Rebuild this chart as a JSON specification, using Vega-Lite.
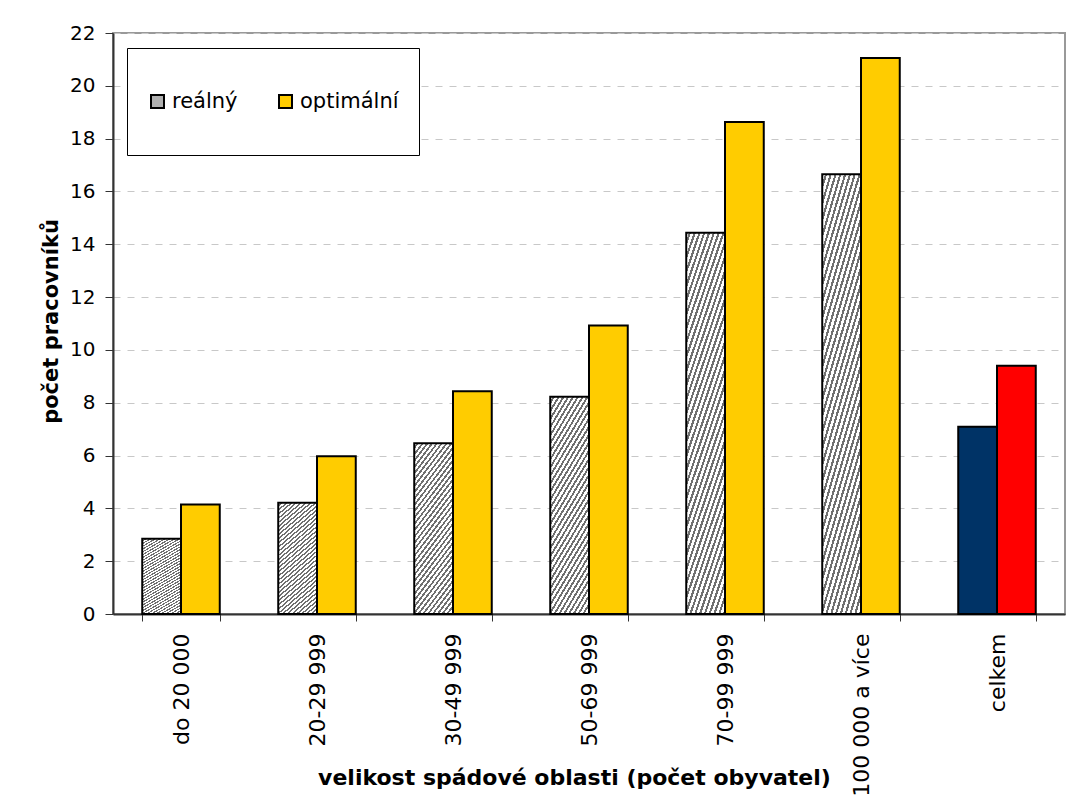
{
  "$schema": "https://vega.github.io/schema/vega-lite/v6.json",
  "width": 952,
  "height": 581,
  "autosize": {"type": "none"},
  "padding": {"left": 113, "top": 33, "right": 6, "bottom": 186},
  "background": "white",
  "data": {
    "values": [
      {"kategorie": "do 20 000", "serie": "reálný", "barva": "reálný", "pocet": 2.85},
      {"kategorie": "do 20 000", "serie": "optimální", "barva": "optimální", "pocet": 4.15},
      {"kategorie": "20-29 999", "serie": "reálný", "barva": "reálný", "pocet": 4.21},
      {"kategorie": "20-29 999", "serie": "optimální", "barva": "optimální", "pocet": 5.97},
      {"kategorie": "30-49 999", "serie": "reálný", "barva": "reálný", "pocet": 6.47},
      {"kategorie": "30-49 999", "serie": "optimální", "barva": "optimální", "pocet": 8.43},
      {"kategorie": "50-69 999", "serie": "reálný", "barva": "reálný", "pocet": 8.23},
      {"kategorie": "50-69 999", "serie": "optimální", "barva": "optimální", "pocet": 10.92},
      {"kategorie": "70-99 999", "serie": "reálný", "barva": "reálný", "pocet": 14.44},
      {"kategorie": "70-99 999", "serie": "optimální", "barva": "optimální", "pocet": 18.63},
      {"kategorie": "100 000 a více", "serie": "reálný", "barva": "reálný", "pocet": 16.65},
      {"kategorie": "100 000 a více", "serie": "optimální", "barva": "optimální", "pocet": 21.05},
      {"kategorie": "celkem", "serie": "reálný", "barva": "celkem reálný", "pocet": 7.09},
      {"kategorie": "celkem", "serie": "optimální", "barva": "celkem optimální", "pocet": 9.4}
    ]
  },
  "mark": {"type": "bar", "stroke": "black", "strokeWidth": 2, "fillOpacity": 1},
  "encoding": {
    "x": {
      "field": "kategorie",
      "type": "nominal",
      "sort": null,
      "scale": {"paddingInner": 0.43, "paddingOuter": 0.215},
      "axis": {
        "title": "velikost spádové oblasti (počet obyvatel)",
        "titleFont": "DejaVu Sans",
        "titleFontWeight": "bold",
        "titleFontSize": 22,
        "titleColor": "black",
        "titleX": 461,
        "titleY": 170,
        "titleAlign": "center",
        "titleBaseline": "alphabetic",
        "labelAngle": -90,
        "labelFont": "DejaVu Sans",
        "labelFontSize": 22,
        "labelColor": "black",
        "labelPadding": 12,
        "tickBand": "extent",
        "tickSize": 7,
        "tickColor": "#333333",
        "domainColor": "#333333",
        "domainWidth": 2,
        "grid": false
      }
    },
    "xOffset": {
      "field": "serie",
      "type": "nominal",
      "scale": {"domain": ["reálný", "optimální"], "paddingInner": 0, "paddingOuter": 0}
    },
    "y": {
      "field": "pocet",
      "type": "quantitative",
      "scale": {"domain": [0, 22], "nice": false},
      "axis": {
        "title": "počet pracovníků",
        "titleFont": "DejaVu Sans",
        "titleFontWeight": "bold",
        "titleFontSize": 21,
        "titleColor": "black",
        "titleX": -62,
        "titleY": 288,
        "titleAlign": "center",
        "titleBaseline": "middle",
        "titleAngle": -90,
        "values": [0, 2, 4, 6, 8, 10, 12, 14, 16, 18, 20, 22],
        "labelFont": "DejaVu Sans",
        "labelFontSize": 20,
        "labelColor": "black",
        "labelPadding": 10,
        "tickSize": 8,
        "tickColor": "#333333",
        "domainColor": "#333333",
        "domainWidth": 2,
        "grid": true,
        "gridColor": "#c8c8c8",
        "gridDash": [7, 7],
        "gridWidth": 1
      }
    },
    "fill": {
      "condition": {
        "test": "datum.barva === 'reálný'",
        "value": {
          "gradient": "linear",
          "x1": 0, "y1": 0, "x2": 0.358, "y2": 1.193,
          "stops": [
            {"offset": 0, "color": "white"}, {"offset": 0.01571, "color": "white"}, {"offset": 0.01571, "color": "#707070"}, {"offset": 0.02857, "color": "#707070"},
            {"offset": 0.02857, "color": "white"}, {"offset": 0.04428, "color": "white"}, {"offset": 0.04428, "color": "#707070"}, {"offset": 0.05714, "color": "#707070"},
            {"offset": 0.05714, "color": "white"}, {"offset": 0.07285, "color": "white"}, {"offset": 0.07285, "color": "#707070"}, {"offset": 0.08571, "color": "#707070"},
            {"offset": 0.08571, "color": "white"}, {"offset": 0.10142, "color": "white"}, {"offset": 0.10142, "color": "#707070"}, {"offset": 0.11429, "color": "#707070"},
            {"offset": 0.11429, "color": "white"}, {"offset": 0.13, "color": "white"}, {"offset": 0.13, "color": "#707070"}, {"offset": 0.14286, "color": "#707070"},
            {"offset": 0.14286, "color": "white"}, {"offset": 0.15857, "color": "white"}, {"offset": 0.15857, "color": "#707070"}, {"offset": 0.17143, "color": "#707070"},
            {"offset": 0.17143, "color": "white"}, {"offset": 0.18714, "color": "white"}, {"offset": 0.18714, "color": "#707070"}, {"offset": 0.2, "color": "#707070"},
            {"offset": 0.2, "color": "white"}, {"offset": 0.21571, "color": "white"}, {"offset": 0.21571, "color": "#707070"}, {"offset": 0.22857, "color": "#707070"},
            {"offset": 0.22857, "color": "white"}, {"offset": 0.24428, "color": "white"}, {"offset": 0.24428, "color": "#707070"}, {"offset": 0.25714, "color": "#707070"},
            {"offset": 0.25714, "color": "white"}, {"offset": 0.27285, "color": "white"}, {"offset": 0.27285, "color": "#707070"}, {"offset": 0.28571, "color": "#707070"},
            {"offset": 0.28571, "color": "white"}, {"offset": 0.30142, "color": "white"}, {"offset": 0.30142, "color": "#707070"}, {"offset": 0.31429, "color": "#707070"},
            {"offset": 0.31429, "color": "white"}, {"offset": 0.33, "color": "white"}, {"offset": 0.33, "color": "#707070"}, {"offset": 0.34286, "color": "#707070"},
            {"offset": 0.34286, "color": "white"}, {"offset": 0.35857, "color": "white"}, {"offset": 0.35857, "color": "#707070"}, {"offset": 0.37143, "color": "#707070"},
            {"offset": 0.37143, "color": "white"}, {"offset": 0.38714, "color": "white"}, {"offset": 0.38714, "color": "#707070"}, {"offset": 0.4, "color": "#707070"},
            {"offset": 0.4, "color": "white"}, {"offset": 0.41571, "color": "white"}, {"offset": 0.41571, "color": "#707070"}, {"offset": 0.42857, "color": "#707070"},
            {"offset": 0.42857, "color": "white"}, {"offset": 0.44428, "color": "white"}, {"offset": 0.44428, "color": "#707070"}, {"offset": 0.45714, "color": "#707070"},
            {"offset": 0.45714, "color": "white"}, {"offset": 0.47285, "color": "white"}, {"offset": 0.47285, "color": "#707070"}, {"offset": 0.48571, "color": "#707070"},
            {"offset": 0.48571, "color": "white"}, {"offset": 0.50142, "color": "white"}, {"offset": 0.50142, "color": "#707070"}, {"offset": 0.51429, "color": "#707070"},
            {"offset": 0.51429, "color": "white"}, {"offset": 0.53, "color": "white"}, {"offset": 0.53, "color": "#707070"}, {"offset": 0.54286, "color": "#707070"},
            {"offset": 0.54286, "color": "white"}, {"offset": 0.55857, "color": "white"}, {"offset": 0.55857, "color": "#707070"}, {"offset": 0.57143, "color": "#707070"},
            {"offset": 0.57143, "color": "white"}, {"offset": 0.58714, "color": "white"}, {"offset": 0.58714, "color": "#707070"}, {"offset": 0.6, "color": "#707070"},
            {"offset": 0.6, "color": "white"}, {"offset": 0.61571, "color": "white"}, {"offset": 0.61571, "color": "#707070"}, {"offset": 0.62857, "color": "#707070"},
            {"offset": 0.62857, "color": "white"}, {"offset": 0.64428, "color": "white"}, {"offset": 0.64428, "color": "#707070"}, {"offset": 0.65714, "color": "#707070"},
            {"offset": 0.65714, "color": "white"}, {"offset": 0.67285, "color": "white"}, {"offset": 0.67285, "color": "#707070"}, {"offset": 0.68571, "color": "#707070"},
            {"offset": 0.68571, "color": "white"}, {"offset": 0.70142, "color": "white"}, {"offset": 0.70142, "color": "#707070"}, {"offset": 0.71429, "color": "#707070"},
            {"offset": 0.71429, "color": "white"}, {"offset": 0.73, "color": "white"}, {"offset": 0.73, "color": "#707070"}, {"offset": 0.74286, "color": "#707070"},
            {"offset": 0.74286, "color": "white"}, {"offset": 0.75857, "color": "white"}, {"offset": 0.75857, "color": "#707070"}, {"offset": 0.77143, "color": "#707070"},
            {"offset": 0.77143, "color": "white"}, {"offset": 0.78714, "color": "white"}, {"offset": 0.78714, "color": "#707070"}, {"offset": 0.8, "color": "#707070"},
            {"offset": 0.8, "color": "white"}, {"offset": 0.81571, "color": "white"}, {"offset": 0.81571, "color": "#707070"}, {"offset": 0.82857, "color": "#707070"},
            {"offset": 0.82857, "color": "white"}, {"offset": 0.84428, "color": "white"}, {"offset": 0.84428, "color": "#707070"}, {"offset": 0.85714, "color": "#707070"},
            {"offset": 0.85714, "color": "white"}, {"offset": 0.87285, "color": "white"}, {"offset": 0.87285, "color": "#707070"}, {"offset": 0.88571, "color": "#707070"},
            {"offset": 0.88571, "color": "white"}, {"offset": 0.90142, "color": "white"}, {"offset": 0.90142, "color": "#707070"}, {"offset": 0.91429, "color": "#707070"},
            {"offset": 0.91429, "color": "white"}, {"offset": 0.93, "color": "white"}, {"offset": 0.93, "color": "#707070"}, {"offset": 0.94286, "color": "#707070"},
            {"offset": 0.94286, "color": "white"}, {"offset": 0.95857, "color": "white"}, {"offset": 0.95857, "color": "#707070"}, {"offset": 0.97143, "color": "#707070"},
            {"offset": 0.97143, "color": "white"}, {"offset": 0.98714, "color": "white"}, {"offset": 0.98714, "color": "#707070"}, {"offset": 1, "color": "#707070"}
          ]
        }
      },
      "field": "barva",
      "type": "nominal",
      "scale": {
        "domain": ["reálný", "optimální", "celkem reálný", "celkem optimální"],
        "range": ["#b0b0b0", "#FFCC00", "#003366", "#FF0000"]
      },
      "legend": {
        "values": ["reálný", "optimální"],
        "title": null,
        "orient": "none",
        "legendX": 14,
        "legendY": 15,
        "direction": "horizontal",
        "strokeColor": "black",
        "fillColor": "white",
        "padding": 20,
        "clipHeight": 67,
        "symbolType": "square",
        "symbolSize": 169,
        "symbolStrokeColor": "black",
        "symbolStrokeWidth": 2,
        "symbolOpacity": 1,
        "labelFont": "DejaVu Sans",
        "labelFontSize": 21,
        "labelColor": "black",
        "labelOffset": 4,
        "columnPadding": 37
      }
    }
  },
  "config": {
    "view": {"stroke": "#999999", "strokeWidth": 2}
  }
}
